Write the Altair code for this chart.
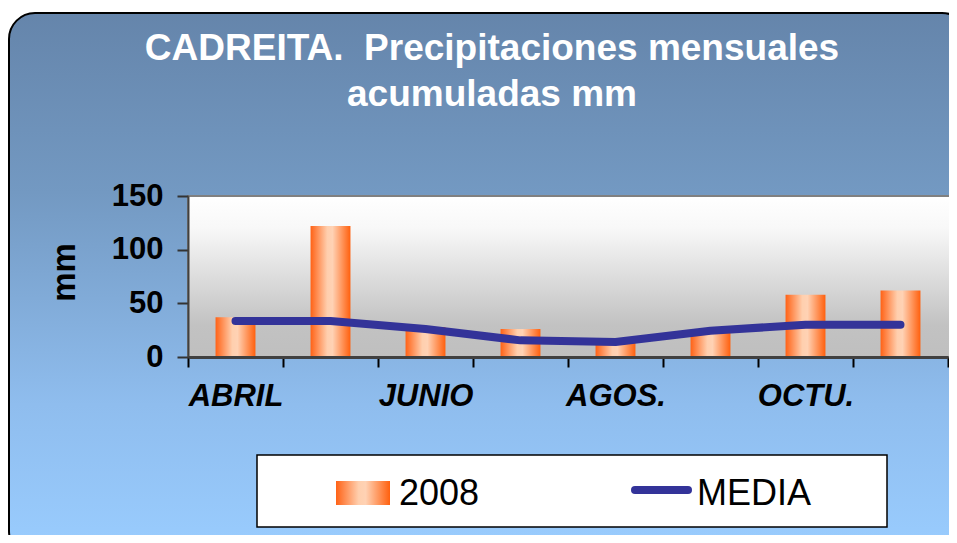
import altair as alt
import pandas as pd

# ---- data ----
meses = ["ABRIL", "MAYO", "JUNIO", "JULIO", "AGOS.", "SEPT.", "OCTU.", "NOV."]
prec_2008 = [37, 122, 28, 26, 13, 24, 58, 62]
media = [33.5, 33.5, 26, 15.5, 14, 24.5, 30, 30]
meses_visibles = ["ABRIL", "JUNIO", "AGOS.", "OCTU."]
y_ticks = [0, 50, 100, 150]
titulo = ["CADREITA.\u00a0 Precipitaciones mensuales", "acumuladas mm"]
serie_barras = "2008"
serie_linea = "MEDIA"

df = pd.DataFrame({"mes": meses, "p2008": prec_2008, "media": media})
one = pd.DataFrame({"k": [0]})

W, H = 760, 161
FONT = "Liberation Sans"

bar_grad = alt.Gradient(
    gradient="linear", x1=0, x2=1, y1=0, y2=0,
    stops=[
        alt.GradientStop(color="#ff6216", offset=0),
        alt.GradientStop(color="#ffcfae", offset=0.42),
        alt.GradientStop(color="#ffd2b4", offset=0.55),
        alt.GradientStop(color="#ff600e", offset=1),
    ],
)
outer_grad = alt.Gradient(
    gradient="linear", x1=0, x2=0, y1=0, y2=1,
    stops=[
        alt.GradientStop(color="#6585ab", offset=0),
        alt.GradientStop(color="#7399c2", offset=0.33),
        alt.GradientStop(color="#8fbdee", offset=0.72),
        alt.GradientStop(color="#9acdff", offset=1),
    ],
)
plot_grad = alt.Gradient(
    gradient="linear", x1=0, x2=0, y1=0, y2=1,
    stops=[
        alt.GradientStop(color="#ffffff", offset=0),
        alt.GradientStop(color="#f8f8f8", offset=0.2),
        alt.GradientStop(color="#c2c2c2", offset=0.8),
        alt.GradientStop(color="#bfbfbf", offset=1),
    ],
)

# decorative background (rounded chart frame)
frame = alt.Chart(one).mark_rect(
    cornerRadius=26, fill=outer_grad, stroke="black", strokeWidth=2
).encode(x=alt.value(-179), x2=alt.value(W + 20), y=alt.value(-183), y2=alt.value(H + 200))

plot_bg = alt.Chart(one).mark_rect(
    fill=plot_grad, stroke="#808080", strokeWidth=2
).encode(x=alt.value(0), x2=alt.value(W + 10), y=alt.value(0), y2=alt.value(H))

x_enc = alt.X(
    "mes:N", sort=meses,
    scale=alt.Scale(paddingInner=0, paddingOuter=0),
    axis=alt.Axis(
        title=None, labelAngle=0, labelFont=FONT, labelFontSize=31,
        labelFontWeight="bold", labelFontStyle="italic", labelColor="black",
        labelPadding=14, labelOverlap=False, labelBound=False,
        labelExpr="indexof(" + str(meses_visibles) + ", datum.value) >= 0 ? datum.label : ''",
        tickBand="extent", tickSize=10, tickColor="black", tickWidth=2,
        domainColor="#404040", domainWidth=3, zindex=1,
    ),
)
y_scale = alt.Scale(domain=[0, 150], nice=False)

bars = alt.Chart(df).mark_bar(
    width=alt.RelativeBandSize(0.42), fill=bar_grad
).encode(
    x=x_enc,
    y=alt.Y(
        "p2008:Q", scale=y_scale,
        axis=alt.Axis(
            values=y_ticks, title="mm", titleFont=FONT, titleFontSize=33,
            titleFontWeight="bold", titleColor="black", titleAngle=-90,
            titleX=-124, titleY=76, titleAlign="center", titleBaseline="middle",
            labelFont=FONT, labelFontSize=31, labelFontWeight="bold",
            labelColor="black", labelPadding=14, tickSize=11, tickColor="#333333",
            tickWidth=2, domainColor="#404040", domainWidth=2, grid=False, zindex=1,
        ),
    ),
)

line = alt.Chart(df).mark_line(
    color="#333399", strokeWidth=8, strokeCap="round", strokeJoin="round"
).encode(x=alt.X("mes:N", sort=meses), y=alt.Y("media:Q", scale=y_scale))

title1 = alt.Chart(one).mark_text(
    font=FONT, fontSize=37, fontWeight="bold", color="white", align="center", baseline="alphabetic"
).encode(x=alt.value(304), y=alt.value(-136), text=alt.value(titulo[0]))
title2 = alt.Chart(one).mark_text(
    font=FONT, fontSize=37, fontWeight="bold", color="white", align="center", baseline="alphabetic"
).encode(x=alt.value(304), y=alt.value(-90), text=alt.value(titulo[1]))

# legend (drawn manually to keep the gradient swatch)
leg_box = alt.Chart(one).mark_rect(fill="white", stroke="black", strokeWidth=1.5).encode(
    x=alt.value(69), x2=alt.value(699), y=alt.value(259), y2=alt.value(331))
leg_sw = alt.Chart(one).mark_rect(fill=bar_grad).encode(
    x=alt.value(148), x2=alt.value(202), y=alt.value(285), y2=alt.value(309))
leg_t1 = alt.Chart(one).mark_text(font=FONT, fontSize=36, color="black", align="left", baseline="alphabetic").encode(
    x=alt.value(211), y=alt.value(309), text=alt.value(serie_barras))
leg_ln = alt.Chart(one).mark_rule(color="#333399", strokeWidth=8, strokeCap="round").encode(
    x=alt.value(447), x2=alt.value(500), y=alt.value(294))
leg_t2 = alt.Chart(one).mark_text(font=FONT, fontSize=36, color="black", align="left", baseline="alphabetic").encode(
    x=alt.value(509), y=alt.value(309), text=alt.value(serie_linea))

chart = alt.layer(
    frame, plot_bg, bars, line, title1, title2, leg_box, leg_sw, leg_t1, leg_ln, leg_t2
).properties(
    width=W, height=H,
    padding={"left": 180, "top": 188, "right": 1, "bottom": 178},
    autosize=alt.AutoSizeParams(type="none"),
    background="white",
).configure_view(stroke=None)

chart.save("out.html", embed_options={"renderer": "svg", "actions": False})
